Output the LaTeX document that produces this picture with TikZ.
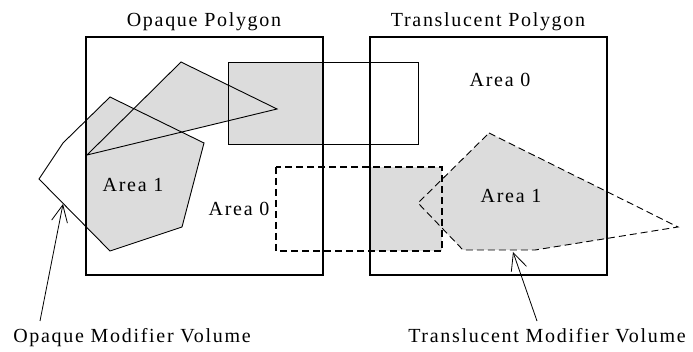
\documentclass[tikz,border=0pt]{standalone}
\usepackage{fontspec}
\setmainfont{Liberation Serif}[LetterSpace=8.5]
\usetikzlibrary{arrows.meta}
\definecolor{areagray}{HTML}{DCDCDC}

\begin{document}
\begin{tikzpicture}[x=1pt,y=-1pt,
  lbl/.style={font=\fontsize{20}{24}\selectfont,anchor=base,inner sep=0pt},
  vol/.style={line width=0.9pt},
  tvol/.style={line width=0.9pt,dash pattern=on 7pt off 4pt},
  tbox/.style={line width=1.5pt,dash pattern=on 7pt off 4pt},
  poly/.style={line width=2.2pt},
  pointer/.style={-{Straight Barb[length=17pt,width=16pt]},line width=0.8pt}]
\useasboundingbox (0,0) rectangle (693,352);
% shaded parts of the opaque polygon
\begin{scope}
\clip (86,37) rectangle (323,275);
\fill[areagray] (87,155)--(181,62)--(277,109)--cycle;
\fill[areagray] (110,97)--(204,143)--(182,227)--(110,251)--(39,179)--(63,143)--cycle;
\fill[areagray] (228,62) rectangle (418,144);
\end{scope}
% shaded parts of the translucent polygon
\begin{scope}
\clip (370,37) rectangle (607,275);
\fill[areagray] (276,167) rectangle (442,251);
\fill[areagray] (489,133)--(678,227)--(535,250)--(463,250)--(418,203)--cycle;
\end{scope}
% opaque modifier volume
\draw[vol] (87,155)--(181,62)--(277,109)--cycle;
\draw[vol] (110,97)--(204,143)--(182,227)--(110,251)--(39,179)--(63,143)--cycle;
\draw[vol] (228,62) rectangle (418,144);
% translucent modifier volume
\draw[tbox] (276,167) rectangle (442,251);
\draw[tvol] (489,133)--(678,227)--(535,250)--(463,250)--(418,203)--cycle;
% polygons
\draw[poly] (86,37) rectangle (323,275);
\draw[poly] (370,37) rectangle (607,275);
\node[lbl] (optitle) at (204,27) {Opaque Polygon};
\node[lbl] (trtitle) at (488,27) {Translucent Polygon};
\node[lbl] (oarea1) at (133,192) {Area 1};
\node[lbl] (oarea0) at (239,216) {Area 0};
\node[lbl] (tarea0) at (500,87) {Area 0};
\node[lbl] (tarea1) at (511,203) {Area 1};
\node[lbl] (omv) at (132,342) {Opaque Modifier Volume};
\node[lbl] (tmv) at (547,342) {Translucent Modifier Volume};
\coordinate (omvfoot) at (40,321);
\coordinate (omvtip) at (63,204);
\coordinate (tmvfoot) at (537,321);
\coordinate (tmvtip) at (513,252);
\draw[pointer] (omvfoot)--(omvtip);
\draw[pointer] (tmvfoot)--(tmvtip);
\end{tikzpicture}
\end{document}
